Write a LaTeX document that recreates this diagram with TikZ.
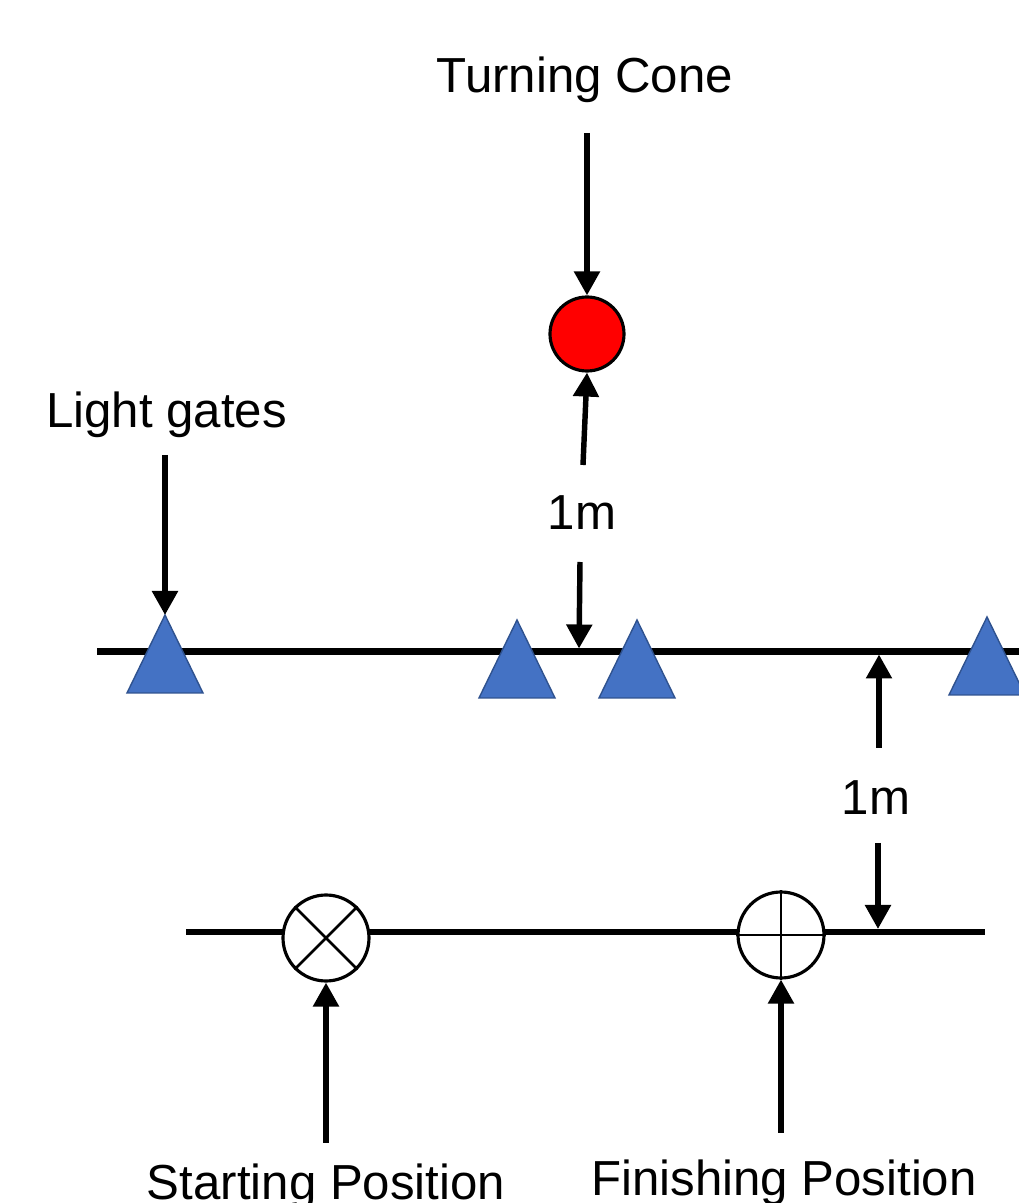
\documentclass[tikz,border=0pt]{standalone}
\usepackage{fontspec}
\setmainfont{Liberation Sans}
\usetikzlibrary{arrows.meta}
\definecolor{gateblue}{HTML}{4472C4}
\definecolor{gateedge}{HTML}{2F528F}

\begin{document}
\begin{tikzpicture}[scale=1,
    lbl/.style={font=\fontsize{28}{34}\selectfont, anchor=base, inner sep=0pt},
    track/.style={line width=3.6pt},
    arr/.style={line width=3.1pt, -{Triangle[length=0.48cm,width=0.5cm]}},
    gate/.style={fill=gateblue, draw=gateedge, line width=0.8pt},
    spot/.style={circle, draw, line width=1.8pt, fill=white, minimum size=1.72cm, inner sep=0pt}]
      % \draw[help lines, gray!50, very thin] (0,0) grid (20,24);
      \useasboundingbox (0,0) rectangle (20.38,24.06);

      % the two lines
      \draw[track] (1.94,11.03) -- (20.6,11.03);
      \draw[track] (3.72,5.42) -- (19.7,5.42);

      % light gates
      \foreach \n/\x/\y in {1/3.3/10.2, 2/10.34/10.1, 3/12.74/10.1, 4/19.74/10.16} {
        \draw[gate] (\x-0.76,\y) -- (\x,\y+1.56) -- (\x+0.76,\y) -- cycle;
        \coordinate (g\n) at (\x,\y+1.56);
      }

      % turning cone
      \node[circle, draw, fill=red, line width=1.8pt, minimum size=1.48cm] (cone) at (11.74,17.38) {};
      \node[lbl] (coneTxt) at (11.7,22.2) {Turning Cone};
      \coordinate (coneTop) at (11.74,21.4);
      \draw[arr] (coneTop) -- (cone.north);

      % 1m to the cone
      \node[lbl] (d1) at (11.64,13.46) {1m};
      \coordinate (d1up) at (11.66,14.76);
      \coordinate (d1dn) at (11.6,12.82);
      \coordinate (d1ln) at (11.58,11.09);
      \draw[arr] (d1up) -- (cone.south);
      \draw[arr] (d1dn) -- (d1ln);

      % light gates label
      \node[lbl] (lgTxt) at (3.33,15.5) {Light gates};
      \coordinate (lgTop) at (3.3,14.96);
      \draw[arr] (lgTop) -- (g1);

      % 1m between the lines
      \node[lbl] (d2) at (17.52,7.76) {1m};
      \coordinate (d2up) at (17.58,9.1);
      \coordinate (d2top) at (17.58,10.97);
      \coordinate (d2dn) at (17.56,7.2);
      \coordinate (d2bot) at (17.56,5.48);
      \draw[arr] (d2up) -- (d2top);
      \draw[arr] (d2dn) -- (d2bot);

      % start and finish
      \node[spot] (start) at (6.52,5.30) {};
      \draw[line width=1.6pt] (start.north east) -- (start.south west);
      \draw[line width=1.6pt] (start.north west) -- (start.south east);
      \node[spot] (finish) at (15.62,5.36) {};
      \draw[line width=1.6pt] (finish.north) -- (finish.south);
      \draw[line width=1.6pt] (finish.west) -- (finish.east);

      \coordinate (sArr) at (6.52,1.2);
      \coordinate (fArr) at (15.62,1.4);
      \draw[arr] (sArr) -- (start.south);
      \draw[arr] (fArr) -- (finish.south);
      \node[lbl] (sTxt) at (6.52,0.06) {Starting Position};
      \node[lbl] (fTxt) at (15.68,0.14) {Finishing Position};
    \end{tikzpicture}
\end{document}
